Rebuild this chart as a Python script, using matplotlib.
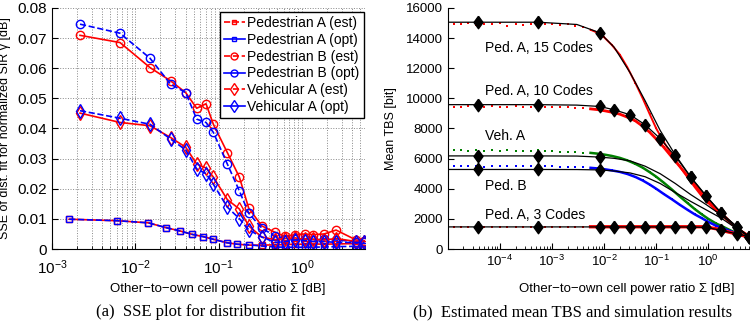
import matplotlib
matplotlib.use("Agg")
import matplotlib.pyplot as plt
from matplotlib.lines import Line2D

plt.rcParams['font.family'] = ['Liberation Sans', 'DejaVu Sans']
plt.rcParams['mathtext.fontset'] = 'custom'
plt.rcParams['mathtext.rm'] = 'Liberation Sans'
plt.rcParams['mathtext.it'] = 'Liberation Sans:italic'
plt.rcParams['xtick.direction'] = 'in'
plt.rcParams['ytick.direction'] = 'in'

# ---------------- left panel data ----------------
x_pedA = [0.00161, 0.00608, 0.0143, 0.0234, 0.0344, 0.0476, 0.0655, 0.0849, 0.125, 0.1675,
          0.233, 0.328, 0.479, 0.627, 0.826, 1.09, 1.36, 1.84, 2.56, 4.46, 5.6]
pedA_est = [0.0099, 0.0094, 0.0087, 0.0071, 0.0060, 0.0049, 0.0041, 0.0033, 0.0021, 0.0016,
            0.0013, 0.0013, 0.0014, 0.0015, 0.0016, 0.0016, 0.0017, 0.0016, 0.0017, 0.0018, 0.0018]
pedA_opt = [0.0099, 0.0094, 0.0087, 0.0071, 0.0060, 0.0049, 0.0041, 0.0033, 0.0021, 0.0016,
            0.0014, 0.0010, 0.0007, 0.0006, 0.0006, 0.0006, 0.0006, 0.0007, 0.0008, 0.0009, 0.0010]

x_bv = [0.00217, 0.00655, 0.015, 0.0265, 0.0402, 0.0545, 0.0705, 0.0863, 0.127, 0.177,
        0.229, 0.328, 0.479, 0.627, 0.826, 1.09, 1.36, 1.84, 2.56, 4.46, 5.6]
pedB_est = [0.0709, 0.0685, 0.0602, 0.0558, 0.0519, 0.0467, 0.0482, 0.0414, 0.0320, 0.0239,
            0.0136, 0.0077, 0.0055, 0.0042, 0.0048, 0.0050, 0.0048, 0.0050, 0.0063, 0.0030, 0.0028]
pedB_opt = [0.0746, 0.0716, 0.0633, 0.0547, 0.0519, 0.0431, 0.0420, 0.0387, 0.0282, 0.0193,
            0.0119, 0.0070, 0.0042, 0.0035, 0.0033, 0.0033, 0.0030, 0.0032, 0.0030, 0.0025, 0.0025]
vehA_est = [0.0451, 0.0420, 0.0409, 0.0370, 0.0338, 0.0282, 0.0269, 0.0239, 0.0164, 0.0133,
            0.0077, 0.0040, 0.0031, 0.0035, 0.0037, 0.0032, 0.0033, 0.0030, 0.0035, 0.0025, 0.0025]
vehA_opt = [0.0459, 0.0434, 0.0414, 0.0365, 0.0329, 0.0266, 0.0250, 0.0215, 0.0139, 0.0101,
            0.0064, 0.0040, 0.0022, 0.0025, 0.0030, 0.0028, 0.0025, 0.0025, 0.0022, 0.0022, 0.0022]

left_yticks = [0, 0.01, 0.02, 0.03, 0.04, 0.05, 0.06, 0.07, 0.08]
left_yticklabels = ['0', '0.01', '0.02', '0.03', '0.04', '0.05', '0.06', '0.07', '0.08']
legend_labels = ['Pedestrian A (est)', 'Pedestrian A (opt)', 'Pedestrian B (est)',
                 'Pedestrian B (opt)', 'Vehicular A (est)', 'Vehicular A (opt)']

# ---------------- right panel data ----------------
fit_x = [1e-5, 3.84e-5, 5.44e-4, 3e-3, 8.3e-3, 0.0155, 0.0315, 0.061, 0.119, 0.232,
         0.465, 0.91, 1.77, 3.5, 6.0]
fit_pedA15 = [15050, 15050, 15050, 14900, 14350, 13400, 11700, 9850, 7870, 6250,
              4750, 3520, 2380, 1490, 830]
fit_pedA10 = [9580, 9580, 9580, 9550, 9460, 9240, 8910, 8250, 7330, 6160,
              4750, 3520, 2380, 1490, 830]
fit_vehA = [6180, 6180, 6180, 6170, 6100, 6020, 5850, 5500, 5000, 4350,
            3600, 2950, 2250, 1400, 830]
fit_pedB = [5280, 5280, 5280, 5275, 5250, 5180, 5050, 4800, 4350, 3750,
            3150, 2600, 2050, 1350, 830]
fit_pedA3 = [1470, 1470, 1470, 1470, 1470, 1470, 1470, 1470, 1470, 1470,
             1460, 1440, 1240, 1010, 830]

sim_x = [1.3e-5, 1.8e-5, 2.5e-5, 3.5e-5, 5e-5, 7e-5, 1e-4, 1.4e-4, 2e-4, 2.8e-4,
         4e-4, 5.5e-4, 7.5e-4, 1e-3, 1.4e-3, 2e-3, 2.8e-3, 4e-3, 5.5e-3, 7.5e-3,
         0.01, 0.014, 0.02, 0.028, 0.04, 0.055, 0.075, 0.1, 0.14, 0.2,
         0.28, 0.4, 0.55, 0.75, 1.0, 1.4, 2.0, 2.8, 4.0, 5.5]
sim_pedA15 = [14950, 14900, 15000, 14850, 14950, 14900, 15000, 14800, 14900, 14850,
              14950, 15000, 14900, 14950, 14850, 14900, 14800, 14700, 14550, 14350,
              14050, 13550, 12900, 12050, 11000, 10000, 8950, 8000, 7100, 6250,
              5500, 4750, 4100, 3500, 3050, 2550, 2100, 1650, 1250, 950]
sim_pedA10 = [9450, 9400, 9480, 9420, 9450, 9500, 9430, 9400, 9470, 9450,
              9420, 9450, 9400, 9430, 9420, 9400, 9380, 9350, 9300, 9250,
              9180, 9080, 8950, 8750, 8500, 8150, 7750, 7300, 6750, 6100,
              5500, 4850, 4250, 3700, 3200, 2700, 2200, 1700, 1250, 950]
sim_vehA = [6600, 6550, 6500, 6580, 6520, 6550, 6500, 6550, 6480, 6520,
            6500, 6550, 6500, 6480, 6450, 6450, 6420, 6400, 6380, 6330,
            6270, 6180, 6050, 5880, 5650, 5400, 5100, 4800, 4400, 3950,
            3500, 3050, 2650, 2300, 2000, 1700, 1450, 1200, 1000, 820]
sim_pedB = [5500, 5480, 5520, 5500, 5470, 5510, 5490, 5500, 5520, 5480,
            5500, 5510, 5490, 5480, 5470, 5460, 5440, 5420, 5390, 5350,
            5300, 5220, 5120, 4980, 4780, 4550, 4280, 4000, 3650, 3300,
            2950, 2600, 2300, 2050, 1800, 1550, 1350, 1150, 970, 800]
sim_pedA3 = [1480] * 34 + [1430, 1350, 1200, 1080, 950, 830]

right_yticks = [0, 2000, 4000, 6000, 8000, 10000, 12000, 14000, 16000]
right_xticks = [1e-4, 1e-3, 1e-2, 1e-1, 1e0]
curve_labels = ['Ped. A, 15 Codes', 'Ped. A, 10 Codes', 'Veh. A', 'Ped. B', 'Ped. A, 3 Codes']
label_y = [13350, 10470, 7480, 4180, 2260]

xlabel = 'Other\u2212to\u2212own cell power ratio \u03a3 [dB]'

fig = plt.figure(figsize=(7.5, 3.29), dpi=100)

# ---------------- left ----------------
axL = fig.add_axes([0.0693, 0.243, 0.4174, 0.733])
RED, BLUE = '#ff0000', '#0000ff'
lw = 1.2
axL.plot(x_pedA, pedA_est, color=RED, ls='-', lw=lw, marker='s', ms=4.5, mfc='none', mew=1.0)
axL.plot(x_pedA, pedA_opt, color=BLUE, ls='--', lw=lw, marker='s', ms=4.5, mfc='none', mew=1.0)
axL.plot(x_bv, pedB_est, color=RED, ls='-', lw=lw, marker='o', ms=6, mfc='none', mew=1.0)
axL.plot(x_bv, pedB_opt, color=BLUE, ls='--', lw=lw, marker='o', ms=6, mfc='none', mew=1.0)
axL.plot(x_bv, vehA_est, color=RED, ls='-', lw=lw, marker='d', ms=7, mfc='none', mew=1.0)
axL.plot(x_bv, vehA_opt, color=BLUE, ls='--', lw=lw, marker='d', ms=7, mfc='none', mew=1.0)
axL.set_xscale('log')
axL.set_xlim(1e-3, 5.7)
axL.set_ylim(0, 0.08)
axL.set_yticks(left_yticks)
axL.set_yticklabels(left_yticklabels)
axL.grid(True, which='both', axis='x', ls=':', color='#888888', lw=0.7)
axL.grid(True, which='major', axis='y', ls=':', color='#888888', lw=0.7)
for s in ['top', 'right']:
    axL.spines[s].set_visible(False)
axL.tick_params(labelsize=11, length=4)
axL.tick_params(axis='x', pad=7)
axL.tick_params(which='minor', length=2)
axL.set_xlabel(xlabel, fontsize=9.5)
axL.xaxis.set_label_coords(0.53, -0.141)
axL.set_ylabel('SSE of dist. fit for normalized SIR \u03b3 [dB]', fontsize=9)
axL.yaxis.set_label_coords(-0.132, 0.5)

handles = []
for i, lab in enumerate(legend_labels):
    mk = ['s', 'o', 'd'][i // 2]
    ms = [4.5, 6, 7][i // 2]
    if i % 2 == 0:
        h = Line2D([], [], color=RED, ls='--', lw=lw, marker=mk, ms=ms - 1, mfc='none')
    else:
        h = Line2D([], [], color=BLUE, ls='-', lw=lw, marker=mk, ms=ms - 1, mfc='none')
    handles.append(h)
leg = axL.legend(handles, legend_labels, loc='upper right', bbox_to_anchor=(1.005, 0.995),
                 fontsize=10, labelspacing=0.2, handlelength=1.5, handletextpad=0.2,
                 borderpad=0.3, borderaxespad=0.2, fancybox=False, framealpha=1,
                 edgecolor='black')
leg.get_frame().set_linewidth(1.0)

# ---------------- right ----------------
axR = fig.add_axes([0.597, 0.243, 0.403, 0.733])
diam = [(0, 1), (0.72, 0), (0, -1), (-0.72, 0), (0, 1)]
sims = [(sim_pedA15, RED, 1.4), (sim_pedA10, RED, 2.0), (sim_vehA, '#008000', 1.8),
        (sim_pedB, BLUE, 1.8), (sim_pedA3, RED, 2.4)]
for ys, c, w in sims:
    axR.plot(sim_x, ys, ls='none', marker='s', ms=1.8, color=c, mew=0)
    axR.plot(sim_x[18:], ys[18:], ls='-', lw=w, color=c)
fits = [(fit_pedA15, [1, 2, 4, 9, 10, 11, 12, 13, 14]),
        (fit_pedA10, [1, 2] + list(range(4, 15))),
        (fit_vehA, [1, 2, 4]),
        (fit_pedB, [1, 2, 4]),
        (fit_pedA3, [1, 2] + list(range(4, 15)))]
for ys, me in fits:
    axR.plot(fit_x, ys, color='black', lw=0.9, marker=diam, ms=9, markevery=me,
             mfc='black', mec='black')
for lab, yv in zip(curve_labels, label_y):
    axR.text(5.1e-5, yv, lab, fontsize=10, va='center', ha='left')
axR.set_xscale('log')
axR.set_xlim(1e-5, 6.3)
axR.set_ylim(0, 16000)
axR.set_xticks(right_xticks)
axR.set_yticks(right_yticks)
axR.set_yticklabels([str(v) for v in right_yticks])
for s in ['top', 'right']:
    axR.spines[s].set_visible(False)
axR.tick_params(labelsize=9.5, length=4)
axR.tick_params(which='minor', length=2)
axR.set_xlabel(xlabel, fontsize=9.5)
axR.xaxis.set_label_coords(0.593, -0.141)
axR.set_ylabel('Mean TBS [bit]', fontsize=9)
axR.yaxis.set_label_coords(-0.169, 0.5)

fig.text(0.267, 0.052, '(a)  SSE plot for distribution fit', family='Liberation Serif',
         fontsize=12, ha='center', va='center')
fig.text(0.763, 0.052, '(b)  Estimated mean TBS and simulation results', family='Liberation Serif',
         fontsize=12, ha='center', va='center')

fig.savefig('out.png', dpi=100)
